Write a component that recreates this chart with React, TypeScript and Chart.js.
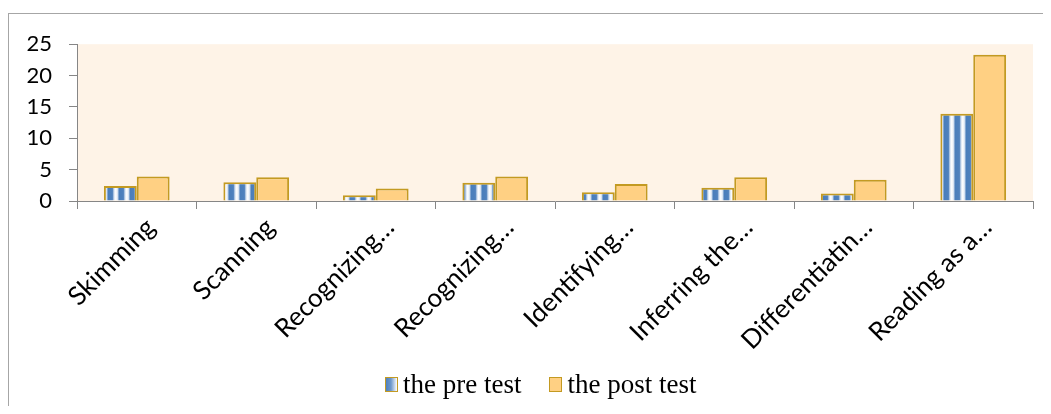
import React, { useEffect, useRef } from "react";
import { Chart, registerables } from "chart.js";

Chart.register(...registerables);

const categories = [
  "Skimming",
  "Scanning",
  "Recognizing…",
  "Recognizing…",
  "Identifying…",
  "Inferring the…",
  "Differentiatin…",
  "Reading as a…",
];
const preTest = [2.4, 3.0, 0.9, 2.9, 1.4, 2.1, 1.2, 13.9];
const postTest = [3.9, 3.8, 2.0, 3.9, 2.7, 3.8, 3.4, 23.3];
const yTicks = [0, 5, 10, 15, 20, 25];
const seriesNames = ["the pre test", "the post test"];

const AXIS = "#868686";
const GOLD = "#C39A22";
const POST_FILL = "#FFD083";
const PLOT_BG = "#FEF3E7";

function makeStripePattern(): CanvasPattern | string {
  const c = document.createElement("canvas");
  c.width = 11;
  c.height = 11;
  const g = c.getContext("2d");
  if (!g) return "#4F81BD";
  const grad = g.createLinearGradient(0, 0, 11, 0);
  grad.addColorStop(0, "#4A7EBB");
  grad.addColorStop(0.4, "#4F81BD");
  grad.addColorStop(0.55, "#D6E2F1");
  grad.addColorStop(0.7, "#FFFFFF");
  grad.addColorStop(0.85, "#E4ECF6");
  grad.addColorStop(1, "#5B8AC2");
  g.fillStyle = grad;
  g.fillRect(0, 0, 11, 11);
  const p = g.createPattern(c, "repeat");
  return p || "#4F81BD";
}

const plotBg = {
  id: "plotBg",
  beforeDraw(chart: any) {
    const { ctx, chartArea } = chart;
    if (!chartArea) return;
    ctx.save();
    ctx.fillStyle = PLOT_BG;
    ctx.fillRect(chartArea.left, chartArea.top, chartArea.right - chartArea.left, chartArea.bottom - chartArea.top);
    ctx.restore();
  },
};

export default function App() {
  const ref = useRef<HTMLCanvasElement | null>(null);

  useEffect(() => {
    if (!ref.current) return;
    const pattern = makeStripePattern();
    const chart = new Chart(ref.current, {
      type: "bar",
      data: {
        labels: categories,
        datasets: [
          {
            label: seriesNames[0],
            data: preTest,
            backgroundColor: pattern as any,
            borderColor: GOLD,
            borderWidth: 2,
            categoryPercentage: 0.55,
            barPercentage: 1.0,
          },
          {
            label: seriesNames[1],
            data: postTest,
            backgroundColor: POST_FILL,
            borderColor: GOLD,
            borderWidth: 2,
            categoryPercentage: 0.55,
            barPercentage: 1.0,
          },
        ],
      },
      options: {
        animation: false,
        responsive: false,
        devicePixelRatio: 1,
        layout: { padding: { top: 29, right: 18, left: 0, bottom: 0 } },
        plugins: {
          legend: { display: false },
          tooltip: { enabled: false },
        },
        scales: {
          x: {
            grid: {
              display: true,
              offset: true,
              drawOnChartArea: false,
              drawTicks: true,
              tickLength: 8,
              color: AXIS,
            },
            border: { display: true, color: AXIS, width: 1 },
            ticks: {
              minRotation: 45,
              maxRotation: 45,
              autoSkip: false,
              padding: 3,
              labelOffset: 14,
              color: "#000",
              font: { family: "Lato", size: 26 },
            },
            afterFit(scale: any) {
              scale.height = 213;
            },
          },
          y: {
            min: yTicks[0],
            max: yTicks[yTicks.length - 1],
            grid: {
              display: true,
              drawOnChartArea: false,
              drawTicks: true,
              tickLength: 8,
              color: AXIS,
            },
            border: { display: true, color: AXIS, width: 1 },
            ticks: {
              stepSize: yTicks[1] - yTicks[0],
              padding: 17,
              color: "#000",
              font: { family: "Lato", size: 22 },
            },
            afterFit(scale: any) {
              scale.width = 68;
            },
          },
        },
      },
      plugins: [plotBg],
    });
    return () => chart.destroy();
  }, []);

  const boxStyle = (bg: string): React.CSSProperties => ({
    display: "inline-block",
    width: 11,
    height: 13,
    border: `1px solid ${GOLD}`,
    background: bg,
    marginRight: 5,
  });

  return (
    <div style={{ paddingTop: 5, width: 1035, height: 398, boxSizing: "border-box", overflow: "hidden" }}>
      <div
        style={{
          position: "relative",
          width: 1042,
          height: 400,
          borderTop: "1px solid #A6A6A6",
          borderLeft: "1px solid #A6A6A6",
        }}
      >
        <canvas ref={ref} width={1042} height={400} style={{ display: "block", width: 1042, height: 400 }} />
        <div
          style={{
            position: "absolute",
            left: 376,
            top: 355,
            height: 30,
            display: "flex",
            alignItems: "center",
            fontFamily: "'Liberation Serif', 'Times New Roman', serif",
            fontSize: 27,
            lineHeight: "30px",
            color: "#000",
            whiteSpace: "nowrap",
          }}
        >
          <span style={boxStyle("linear-gradient(90deg, #4F81BD 0%, #6E97CA 45%, #FFFFFF 100%)")} />
          <span style={{ marginRight: 28 }}>{seriesNames[0]}</span>
          <span style={boxStyle(POST_FILL)} />
          <span>{seriesNames[1]}</span>
        </div>
      </div>
    </div>
  );
}
